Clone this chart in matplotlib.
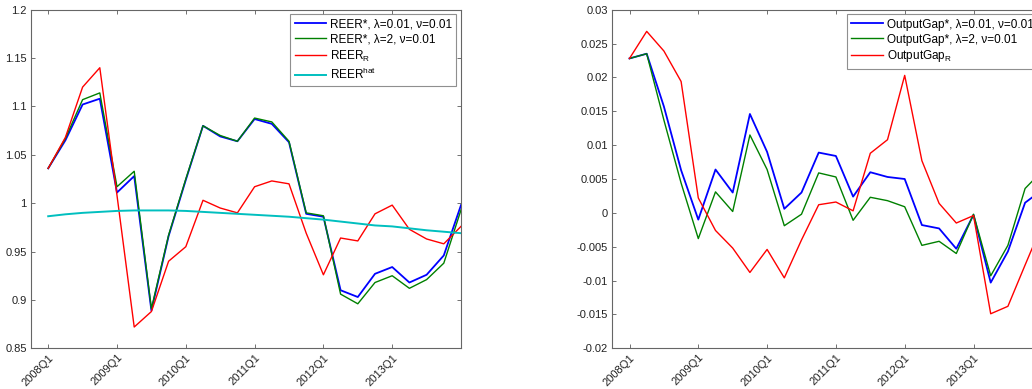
"""Two-panel chart: REER and output gap estimates, quarterly 2008Q1-2014Q1."""

import matplotlib

matplotlib.use("Agg")
import matplotlib.pyplot as plt
from matplotlib.ticker import FuncFormatter, MultipleLocator

plt.rcParams["font.family"] = ["Liberation Sans", "DejaVu Sans"]
plt.rcParams["mathtext.fontset"] = "custom"
plt.rcParams["mathtext.rm"] = "Liberation Sans"

# quarters 2008Q1 .. 2014Q1
quarters = [f"{y}Q{q}" for y in range(2008, 2015) for q in range(1, 5)][:25]

reer_low = [1.036, 1.065, 1.102, 1.108, 1.011, 1.028, 0.889, 0.966, 1.024, 1.080,
            1.069, 1.064, 1.087, 1.082, 1.063, 0.989, 0.986, 0.910, 0.903, 0.927,
            0.934, 0.918, 0.926, 0.946, 0.998]
reer_high = [1.036, 1.067, 1.107, 1.114, 1.017, 1.033, 0.891, 0.967, 1.025, 1.080,
             1.070, 1.064, 1.088, 1.084, 1.064, 0.990, 0.987, 0.906, 0.896, 0.918,
             0.925, 0.912, 0.921, 0.938, 0.993]
reer_r = [1.036, 1.068, 1.120, 1.140, 1.008, 0.872, 0.888, 0.940, 0.955, 1.003,
          0.995, 0.990, 1.017, 1.023, 1.020, 0.969, 0.926, 0.964, 0.961, 0.989,
          0.998, 0.973, 0.963, 0.958, 0.976]
reer_hat = [0.9865, 0.9885, 0.990, 0.991, 0.992, 0.9925, 0.9925, 0.9925, 0.992, 0.991,
            0.990, 0.989, 0.988, 0.987, 0.986, 0.9845, 0.983, 0.981, 0.979, 0.977,
            0.976, 0.974, 0.972, 0.9705, 0.969]

gap_low = [0.0228, 0.0235, 0.0157, 0.0063, -0.0010, 0.0064, 0.0030, 0.0146, 0.0090,
           0.0006, 0.0030, 0.0089, 0.0084, 0.0024, 0.0060, 0.0053, 0.0050, -0.0018,
           -0.0023, -0.0053, -0.0003, -0.0103, -0.0057, 0.0015, 0.0034]
gap_high = [0.0228, 0.0235, 0.0137, 0.0044, -0.0038, 0.0031, 0.0002, 0.0115, 0.0064,
            -0.0019, -0.0002, 0.0059, 0.0053, -0.0011, 0.0023, 0.0018, 0.0009, -0.0048,
            -0.0042, -0.0060, -0.0002, -0.0093, -0.0048, 0.0036, 0.0062]
gap_r = [0.0228, 0.0268, 0.0239, 0.0194, 0.0022, -0.0026, -0.0052, -0.0088, -0.0054,
         -0.0096, -0.0040, 0.0012, 0.0016, 0.0003, 0.0088, 0.0108, 0.0203, 0.0077,
         0.0014, -0.0015, -0.0004, -0.0149, -0.0138, -0.0077, -0.0017]

BLUE, GREEN, RED, CYAN = "#0000FF", "#008000", "#FF0000", "#00BFBF"
x = list(range(1, len(quarters) + 1))


def fmt_tick(v, _):
    v = round(v, 4)
    return "0" if v == 0 else f"{v:g}"


def style_axes(ax, ystep, ylim):
    ax.set_xlim(0, 25)
    ax.set_ylim(*ylim)
    # yearly ticks at Q1, 2008..2013
    ax.set_xticks(x[:24:4])
    ax.set_xticklabels(quarters[:24:4], rotation=45, ha="right", va="top",
                       rotation_mode="anchor")
    ax.yaxis.set_major_locator(MultipleLocator(ystep))
    ax.yaxis.set_major_formatter(FuncFormatter(fmt_tick))
    ax.tick_params(direction="in", length=3, width=0.6, color="0.35",
                   top=True, right=True, labelsize=8, labelcolor="#222222", pad=3)
    for sp in ax.spines.values():
        sp.set_color("0.4")
        sp.set_linewidth(0.8)


fig = plt.figure(figsize=(10.32, 3.89), dpi=100)
W, H = 1032, 389
ax1 = fig.add_axes([31 / W, 40.7 / H, 430 / W, 338.6 / H])
ax2 = fig.add_axes([612.3 / W, 40.7 / H, 430 / W, 338.6 / H])

ax1.plot(x, reer_low, color=BLUE, lw=1.3, label="REER*, λ=0.01, ν=0.01")
ax1.plot(x, reer_high, color=GREEN, lw=1.0, label="REER*, λ=2, ν=0.01")
ax1.plot(x, reer_r, color=RED, lw=1.0, label=r"REER$_\mathregular{R}$")
ax1.plot(x, reer_hat, color=CYAN, lw=1.4, label=r"REER$^\mathregular{hat}$")
style_axes(ax1, 0.05, (0.85, 1.2))

ax2.plot(x, gap_low, color=BLUE, lw=1.3, label="OutputGap*, λ=0.01, ν=0.01")
ax2.plot(x, gap_high, color=GREEN, lw=1.0, label="OutputGap*, λ=2, ν=0.01")
ax2.plot(x, gap_r, color=RED, lw=1.0, label=r"OutputGap$_\mathregular{R}$")
style_axes(ax2, 0.005, (-0.02, 0.03))

for ax in (ax1, ax2):
    leg = ax.legend(loc="upper right", fontsize=8.5, frameon=True, fancybox=False,
                    handlelength=2.7, handletextpad=0.3, labelspacing=0.25,
                    borderpad=0.35, borderaxespad=0.4)
    leg.get_frame().set_edgecolor("0.45")
    leg.get_frame().set_linewidth(0.8)

fig.savefig("out.png", dpi=100)
